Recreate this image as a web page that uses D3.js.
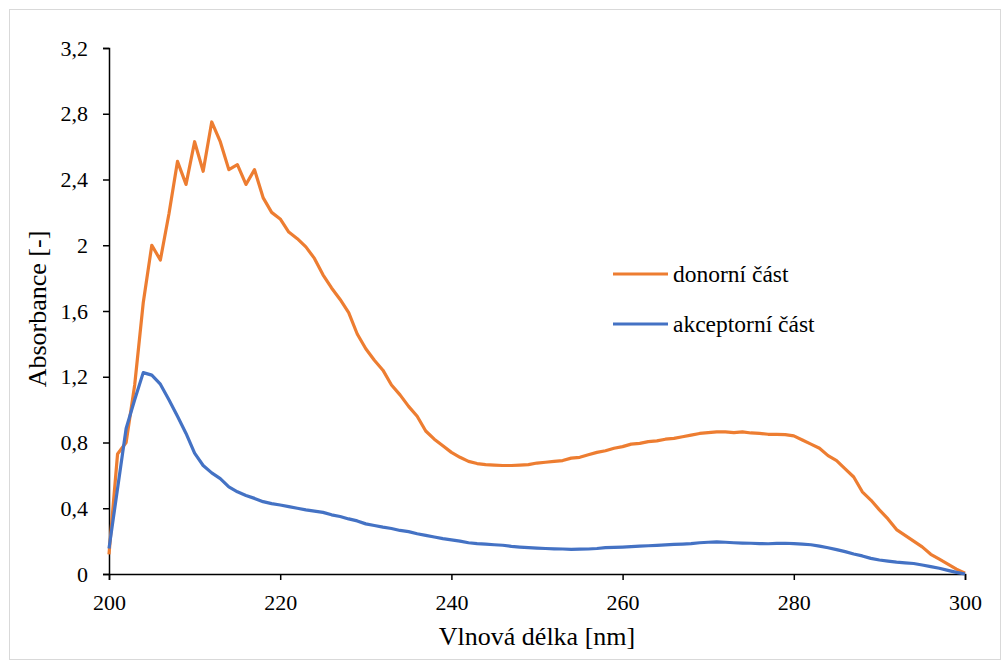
<!DOCTYPE html>
<html>
<head>
<meta charset="utf-8">
<script src="https://cdn.jsdelivr.net/npm/d3@7"></script>
<style>
  body { margin: 0; background: #fff; }
  text { font-family: "Liberation Serif", "Times New Roman", serif; fill: #000; }
</style>
</head>
<body>
<svg width="1003" height="668"></svg>
<script>
// wavelengths 200..300 nm, step 1
var wavelengths = d3.range(200, 301);

var donor = [
  0.12, 0.73, 0.80, 1.15, 1.65, 2.00, 1.91, 2.19, 2.51, 2.37,
  2.63, 2.45, 2.75, 2.63, 2.46, 2.49, 2.37, 2.46, 2.29, 2.20,
  2.16, 2.08, 2.04, 1.99, 1.92, 1.82, 1.74, 1.67, 1.59, 1.46,
  1.37, 1.30, 1.24, 1.15, 1.09, 1.02, 0.96, 0.87, 0.82, 0.78,
  0.74, 0.71, 0.685, 0.672, 0.665, 0.662, 0.66, 0.66, 0.662, 0.665,
  0.675, 0.68, 0.685, 0.69, 0.705, 0.71, 0.725, 0.74, 0.75, 0.765,
  0.775, 0.79, 0.795, 0.805, 0.81, 0.82, 0.825, 0.835, 0.845, 0.855,
  0.86, 0.865, 0.865, 0.86, 0.865, 0.858, 0.855, 0.85, 0.85, 0.848,
  0.84, 0.815, 0.79, 0.765, 0.72, 0.69, 0.64, 0.59, 0.50, 0.45,
  0.39, 0.335, 0.27, 0.235, 0.20, 0.165, 0.12, 0.09, 0.06, 0.03,
  0.005
];

var acceptor = [
  0.155, 0.52, 0.885, 1.06, 1.225, 1.21, 1.155, 1.06, 0.96, 0.855,
  0.735, 0.66, 0.615, 0.58, 0.53, 0.50, 0.478, 0.46, 0.44, 0.428,
  0.42, 0.41, 0.40, 0.39, 0.383, 0.375, 0.36, 0.35, 0.335, 0.323,
  0.305, 0.295, 0.285, 0.277, 0.265, 0.258, 0.245, 0.235, 0.225, 0.215,
  0.208, 0.20, 0.19, 0.185, 0.182, 0.178, 0.175, 0.168, 0.164, 0.16,
  0.157, 0.155, 0.153, 0.152, 0.15, 0.151, 0.152, 0.155, 0.16, 0.162,
  0.164, 0.167, 0.17, 0.172, 0.174, 0.177, 0.18, 0.182, 0.185, 0.19,
  0.193, 0.195, 0.193, 0.19, 0.188, 0.187, 0.185, 0.184, 0.186, 0.187,
  0.185, 0.182, 0.178, 0.17, 0.16, 0.148, 0.136, 0.122, 0.11, 0.095,
  0.085, 0.078, 0.072, 0.068, 0.064, 0.055, 0.045, 0.035, 0.022, 0.01,
  0.0
];

var seriesNames = ["donorní část", "akceptorní část"];
var seriesColors = ["#ED7D31", "#4472C4"];
var xTicks = [200, 220, 240, 260, 280, 300];
var yTicks = [0, 0.4, 0.8, 1.2, 1.6, 2, 2.4, 2.8, 3.2];

var svg = d3.select("svg");

svg.append("rect")
  .attr("x", 9.5).attr("y", 9.5)
  .attr("width", 991).attr("height", 650)
  .attr("fill", "#fff").attr("stroke", "#d9d9d9");

var x = d3.scaleLinear().domain([200, 300]).range([109, 965]);
var y = d3.scaleLinear().domain([0, 3.2]).range([574, 48]);

var fmt = function(d) { return String(d).replace(".", ","); };

var yAxis = svg.append("g")
  .attr("transform", "translate(" + x(200) + ",0)")
  .call(d3.axisLeft(y).tickValues(yTicks).tickFormat(fmt).tickSize(6).tickPadding(15));
var xAxis = svg.append("g")
  .attr("transform", "translate(0," + y(0) + ")")
  .call(d3.axisBottom(x).tickValues(xTicks).tickSize(6).tickPadding(14));

[xAxis, yAxis].forEach(function(a) {
  a.select(".domain").attr("stroke", "#000").attr("stroke-width", 1.5);
  a.selectAll(".tick line").attr("stroke", "#000").attr("stroke-width", 1.5);
  a.selectAll(".tick text")
    .style("font-family", "'Liberation Serif', 'Times New Roman', serif")
    .style("font-size", "22px").attr("fill", "#000");
});

var line = d3.line()
  .x(function(d, i) { return x(wavelengths[i]); })
  .y(function(d) { return y(d); });

[donor, acceptor].forEach(function(s, i) {
  svg.append("path")
    .datum(s)
    .attr("d", line)
    .attr("fill", "none")
    .attr("stroke", seriesColors[i])
    .attr("stroke-width", 3.2)
    .attr("stroke-linejoin", "round");
});

// legend
var legend = svg.append("g");
seriesNames.forEach(function(name, i) {
  var ly = 274 + i * 50;
  legend.append("line")
    .attr("x1", 613).attr("x2", 668)
    .attr("y1", ly).attr("y2", ly)
    .attr("stroke", seriesColors[i]).attr("stroke-width", 3.2);
  legend.append("text")
    .attr("x", 673).attr("y", ly + 8)
    .style("font-size", "23.5px")
    .text(name);
});

svg.append("text")
  .attr("x", 537).attr("y", 645)
  .attr("text-anchor", "middle")
  .style("font-size", "26px")
  .text("Vlnová délka [nm]");

svg.append("text")
  .attr("transform", "translate(46,309) rotate(-90)")
  .attr("text-anchor", "middle")
  .style("font-size", "26px")
  .text("Absorbance [-]");
</script>
</body>
</html>
